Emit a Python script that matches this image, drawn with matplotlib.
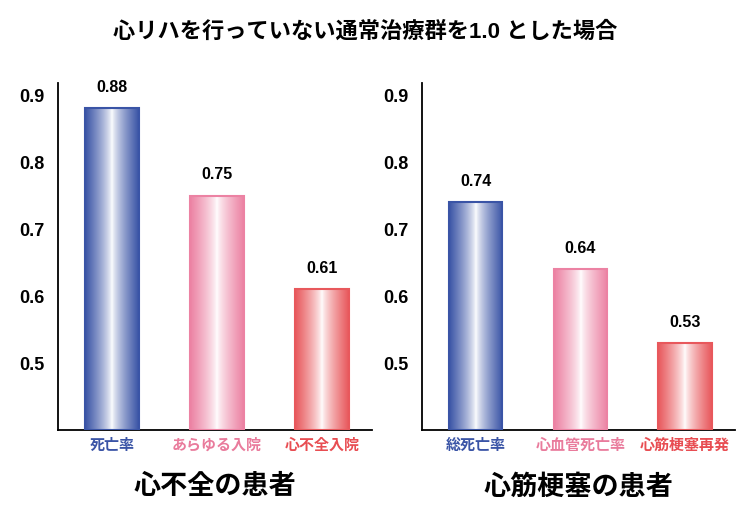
import numpy as np
import matplotlib
matplotlib.use("Agg")
import matplotlib.pyplot as plt
from matplotlib.colors import to_rgb

plt.rcParams['font.family'] = ['Liberation Sans', 'Noto Sans CJK JP', 'DejaVu Sans']

title = "心リハを行っていない通常治療群を1.0 とした場合"

hf_labels = ["死亡率", "あらゆる入院", "心不全入院"]
hf_values = [0.88, 0.75, 0.61]
hf_title = "心不全の患者"

mi_labels = ["総死亡率", "心血管死亡率", "心筋梗塞再発"]
mi_values = [0.74, 0.64, 0.53]
mi_title = "心筋梗塞の患者"

bar_colors = ["#3a54a6", "#ec82a3", "#e8585c"]
text_colors = ["#3a54a6", "#e97b9c", "#e84d52"]
yticks = [0.5, 0.6, 0.7, 0.8, 0.9]

fig = plt.figure(figsize=(7.5, 5.12), dpi=100)
ax1 = fig.add_axes([0.0773, 0.160, 0.419, 0.678])
ax2 = fig.add_axes([0.5627, 0.160, 0.417, 0.678])


def gradient_img(color, n=200):
    c = np.array(to_rgb(color))
    x = np.linspace(0, 1, n)
    # dark at the edges, white in the middle
    t = np.abs(x - 0.5) * 2
    t = t ** 0.75
    img = (1 - t)[:, None] * np.ones(3) + t[:, None] * c
    return img[None, :, :]


def draw_panel(ax, labels, values, sub):
    x = np.arange(len(values))
    bars = ax.bar(x, [v - 0.4 for v in values], bottom=0.4, width=0.51,
                  facecolor="none", edgecolor=bar_colors, linewidth=1.5, zorder=3)
    for b, col, v in zip(bars, bar_colors, values):
        x0 = b.get_x()
        im = ax.imshow(gradient_img(col), extent=[x0, x0 + b.get_width(), 0.4, v],
                       aspect="auto", zorder=2, interpolation="bilinear")
        im.set_clip_path(b)
        ax.annotate(f"{v:.2f}", (b.get_x() + b.get_width() / 2, v),
                    xytext=(0, 15), textcoords="offset points",
                    ha="center", va="center", fontsize=11.5, fontweight="bold")
    ax.set_xlim(-0.514, 2.476)
    ax.set_ylim(0.4, 0.918)
    ax.set_yticks(yticks)
    ax.set_yticklabels([f"{t:.1f}" for t in yticks], fontsize=13, fontweight="bold")
    ax.tick_params(axis="y", length=0, pad=10)
    ax.set_xticks(x)
    ax.set_xticklabels(labels, fontsize=10.8, fontweight="bold")
    for lbl, col in zip(ax.get_xticklabels(), text_colors):
        lbl.set_color(col)
    ax.tick_params(axis="x", length=0, pad=6)
    ax.spines["top"].set_visible(False)
    ax.spines["right"].set_visible(False)
    ax.spines["left"].set_linewidth(1.3)
    ax.spines["bottom"].set_linewidth(1.3)
    ax.text(0.5, -0.165, sub, transform=ax.transAxes, ha="center", va="center",
            fontsize=19.5, fontweight="bold")


draw_panel(ax1, hf_labels, hf_values, hf_title)
draw_panel(ax2, mi_labels, mi_values, mi_title)

fig.text(0.487, 0.9375, title, ha="center", va="center", fontsize=16, fontweight="bold")

fig.savefig("out.png", dpi=100)
